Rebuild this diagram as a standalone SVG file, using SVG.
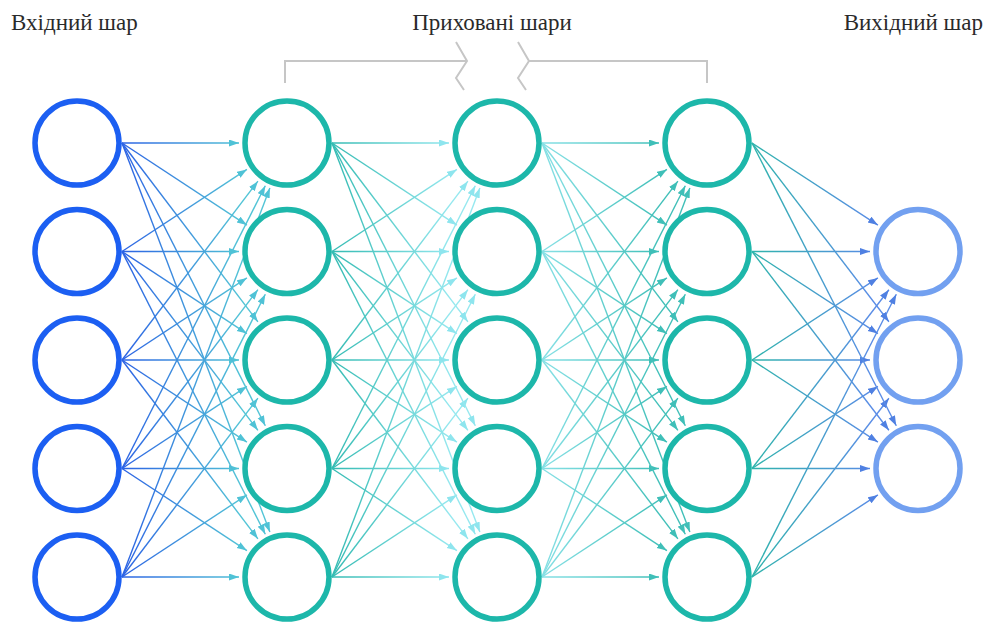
<svg xmlns="http://www.w3.org/2000/svg" width="987" height="622" viewBox="0 0 987 622">
<style>
.lbl{font-family:"Liberation Serif","Times New Roman",serif;font-size:23px;fill:#2a2a2a}
.in{fill:#fff;stroke:#1c5ff2;stroke-width:5.5}
.hid{fill:#fff;stroke:#1db7aa;stroke-width:5.5}
.out{fill:#fff;stroke:#72a0f0;stroke-width:5.5}
.br{fill:none;stroke:#c6c6c6;stroke-width:2}
.c1 line{stroke:url(#g1);stroke-width:1.4;marker-end:url(#m1)}
.c2 line{stroke:url(#g2);stroke-width:1.4;marker-end:url(#m2)}
.c3 line{stroke:url(#g3);stroke-width:1.4;marker-end:url(#m3)}
.c4 line{stroke:url(#g4);stroke-width:1.4;marker-end:url(#m4)}
</style>
<defs>
<linearGradient id="g1" gradientUnits="userSpaceOnUse" x1="122" y1="0" x2="242" y2="0"><stop offset="0" stop-color="#2c62e4"/><stop offset="1" stop-color="#52c4d6"/></linearGradient>
<linearGradient id="g2" gradientUnits="userSpaceOnUse" x1="332" y1="0" x2="452" y2="0"><stop offset="0" stop-color="#34bbb3"/><stop offset="1" stop-color="#95e8ef"/></linearGradient>
<linearGradient id="g3" gradientUnits="userSpaceOnUse" x1="542" y1="0" x2="662" y2="0"><stop offset="0" stop-color="#86e0e5"/><stop offset="1" stop-color="#40bfb8"/></linearGradient>
<linearGradient id="g4" gradientUnits="userSpaceOnUse" x1="752" y1="0" x2="873" y2="0"><stop offset="0" stop-color="#2fb4ac"/><stop offset="1" stop-color="#5a8ce6"/></linearGradient>
<marker id="m1" markerUnits="userSpaceOnUse" markerWidth="11" markerHeight="8" refX="10" refY="3.5" orient="auto"><path d="M0,0L10,3.5L0,7z" fill="#4fc2d6"/></marker>
<marker id="m2" markerUnits="userSpaceOnUse" markerWidth="11" markerHeight="8" refX="10" refY="3.5" orient="auto"><path d="M0,0L10,3.5L0,7z" fill="#8ee5ee"/></marker>
<marker id="m3" markerUnits="userSpaceOnUse" markerWidth="11" markerHeight="8" refX="10" refY="3.5" orient="auto"><path d="M0,0L10,3.5L0,7z" fill="#3fbfb8"/></marker>
<marker id="m4" markerUnits="userSpaceOnUse" markerWidth="11" markerHeight="8" refX="10" refY="3.5" orient="auto"><path d="M0,0L10,3.5L0,7z" fill="#4f80e2"/></marker>
</defs>
<rect width="987" height="622" fill="#fff"/>
<g id="labels">
<text class="lbl" x="11" y="30">Вхідний шар</text>
<text class="lbl" x="492" y="30" text-anchor="middle">Приховані шари</text>
<text class="lbl" x="983" y="30" text-anchor="end">Вихідний шар</text>
</g>
<g id="bracket" class="br">
<polyline points="285,83 285,61 467,61"/>
<polyline points="456,42 467,61 456,78 464,90"/>
<polyline points="518,42 529,61 518,78 526,90"/>
<polyline points="529,61 707,61 707,83"/>
</g>
<g id="connectors">
<g class="c1">
<line x1="122" y1="143" x2="239" y2="143"/>
<line x1="122" y1="251.5" x2="246.9" y2="169.4"/>
<line x1="122" y1="360" x2="257.9" y2="181.2"/>
<line x1="122" y1="468.5" x2="265.3" y2="185.8"/>
<line x1="122" y1="577" x2="269.9" y2="187.9"/>
<line x1="122" y1="143" x2="246.9" y2="225.1"/>
<line x1="122" y1="251.5" x2="239" y2="251.5"/>
<line x1="122" y1="360" x2="246.9" y2="277.9"/>
<line x1="122" y1="468.5" x2="257.9" y2="289.7"/>
<line x1="122" y1="577" x2="265.3" y2="294.3"/>
<line x1="122" y1="143" x2="257.9" y2="321.8"/>
<line x1="122" y1="251.5" x2="246.9" y2="333.6"/>
<line x1="122" y1="360" x2="239" y2="360"/>
<line x1="122" y1="468.5" x2="246.9" y2="386.4"/>
<line x1="122" y1="577" x2="257.9" y2="398.2"/>
<line x1="122" y1="143" x2="265.3" y2="425.7"/>
<line x1="122" y1="251.5" x2="257.9" y2="430.3"/>
<line x1="122" y1="360" x2="246.9" y2="442.1"/>
<line x1="122" y1="468.5" x2="239" y2="468.5"/>
<line x1="122" y1="577" x2="246.9" y2="494.9"/>
<line x1="122" y1="143" x2="269.9" y2="532.1"/>
<line x1="122" y1="251.5" x2="265.3" y2="534.2"/>
<line x1="122" y1="360" x2="257.9" y2="538.8"/>
<line x1="122" y1="468.5" x2="246.9" y2="550.6"/>
<line x1="122" y1="577" x2="239" y2="577"/>
</g>
<g class="c2">
<line x1="332" y1="143" x2="449" y2="143"/>
<line x1="332" y1="251.5" x2="456.9" y2="169.4"/>
<line x1="332" y1="360" x2="467.9" y2="181.2"/>
<line x1="332" y1="468.5" x2="475.3" y2="185.8"/>
<line x1="332" y1="577" x2="479.9" y2="187.9"/>
<line x1="332" y1="143" x2="456.9" y2="225.1"/>
<line x1="332" y1="251.5" x2="449" y2="251.5"/>
<line x1="332" y1="360" x2="456.9" y2="277.9"/>
<line x1="332" y1="468.5" x2="467.9" y2="289.7"/>
<line x1="332" y1="577" x2="475.3" y2="294.3"/>
<line x1="332" y1="143" x2="467.9" y2="321.8"/>
<line x1="332" y1="251.5" x2="456.9" y2="333.6"/>
<line x1="332" y1="360" x2="449" y2="360"/>
<line x1="332" y1="468.5" x2="456.9" y2="386.4"/>
<line x1="332" y1="577" x2="467.9" y2="398.2"/>
<line x1="332" y1="143" x2="475.3" y2="425.7"/>
<line x1="332" y1="251.5" x2="467.9" y2="430.3"/>
<line x1="332" y1="360" x2="456.9" y2="442.1"/>
<line x1="332" y1="468.5" x2="449" y2="468.5"/>
<line x1="332" y1="577" x2="456.9" y2="494.9"/>
<line x1="332" y1="143" x2="479.9" y2="532.1"/>
<line x1="332" y1="251.5" x2="475.3" y2="534.2"/>
<line x1="332" y1="360" x2="467.9" y2="538.8"/>
<line x1="332" y1="468.5" x2="456.9" y2="550.6"/>
<line x1="332" y1="577" x2="449" y2="577"/>
</g>
<g class="c3">
<line x1="542" y1="143" x2="659" y2="143"/>
<line x1="542" y1="251.5" x2="666.9" y2="169.4"/>
<line x1="542" y1="360" x2="677.9" y2="181.2"/>
<line x1="542" y1="468.5" x2="685.3" y2="185.8"/>
<line x1="542" y1="577" x2="689.9" y2="187.9"/>
<line x1="542" y1="143" x2="666.9" y2="225.1"/>
<line x1="542" y1="251.5" x2="659" y2="251.5"/>
<line x1="542" y1="360" x2="666.9" y2="277.9"/>
<line x1="542" y1="468.5" x2="677.9" y2="289.7"/>
<line x1="542" y1="577" x2="685.3" y2="294.3"/>
<line x1="542" y1="143" x2="677.9" y2="321.8"/>
<line x1="542" y1="251.5" x2="666.9" y2="333.6"/>
<line x1="542" y1="360" x2="659" y2="360"/>
<line x1="542" y1="468.5" x2="666.9" y2="386.4"/>
<line x1="542" y1="577" x2="677.9" y2="398.2"/>
<line x1="542" y1="143" x2="685.3" y2="425.7"/>
<line x1="542" y1="251.5" x2="677.9" y2="430.3"/>
<line x1="542" y1="360" x2="666.9" y2="442.1"/>
<line x1="542" y1="468.5" x2="659" y2="468.5"/>
<line x1="542" y1="577" x2="666.9" y2="494.9"/>
<line x1="542" y1="143" x2="689.9" y2="532.1"/>
<line x1="542" y1="251.5" x2="685.3" y2="534.2"/>
<line x1="542" y1="360" x2="677.9" y2="538.8"/>
<line x1="542" y1="468.5" x2="666.9" y2="550.6"/>
<line x1="542" y1="577" x2="659" y2="577"/>
</g>
<g class="c4">
<line x1="752" y1="143" x2="877.9" y2="225.1"/>
<line x1="752" y1="251.5" x2="870" y2="251.5"/>
<line x1="752" y1="360" x2="877.9" y2="277.9"/>
<line x1="752" y1="468.5" x2="888.9" y2="289.7"/>
<line x1="752" y1="577" x2="896.3" y2="294.3"/>
<line x1="752" y1="143" x2="888.9" y2="321.8"/>
<line x1="752" y1="251.5" x2="877.9" y2="333.6"/>
<line x1="752" y1="360" x2="870" y2="360"/>
<line x1="752" y1="468.5" x2="877.9" y2="386.4"/>
<line x1="752" y1="577" x2="888.9" y2="398.2"/>
<line x1="752" y1="143" x2="896.3" y2="425.7"/>
<line x1="752" y1="251.5" x2="888.9" y2="430.3"/>
<line x1="752" y1="360" x2="877.9" y2="442.1"/>
<line x1="752" y1="468.5" x2="870" y2="468.5"/>
<line x1="752" y1="577" x2="877.9" y2="494.9"/>
</g>
</g>
<g id="input-layer">
<circle id="in1" class="in" cx="77" cy="143" r="42"/>
<circle id="in2" class="in" cx="77" cy="251.5" r="42"/>
<circle id="in3" class="in" cx="77" cy="360" r="42"/>
<circle id="in4" class="in" cx="77" cy="468.5" r="42"/>
<circle id="in5" class="in" cx="77" cy="577" r="42"/>
</g>
<g id="hidden-layer-1">
<circle id="h1a" class="hid" cx="287" cy="143" r="42"/>
<circle id="h1b" class="hid" cx="287" cy="251.5" r="42"/>
<circle id="h1c" class="hid" cx="287" cy="360" r="42"/>
<circle id="h1d" class="hid" cx="287" cy="468.5" r="42"/>
<circle id="h1e" class="hid" cx="287" cy="577" r="42"/>
</g>
<g id="hidden-layer-2">
<circle id="h2a" class="hid" cx="497" cy="143" r="42"/>
<circle id="h2b" class="hid" cx="497" cy="251.5" r="42"/>
<circle id="h2c" class="hid" cx="497" cy="360" r="42"/>
<circle id="h2d" class="hid" cx="497" cy="468.5" r="42"/>
<circle id="h2e" class="hid" cx="497" cy="577" r="42"/>
</g>
<g id="hidden-layer-3">
<circle id="h3a" class="hid" cx="707" cy="143" r="42"/>
<circle id="h3b" class="hid" cx="707" cy="251.5" r="42"/>
<circle id="h3c" class="hid" cx="707" cy="360" r="42"/>
<circle id="h3d" class="hid" cx="707" cy="468.5" r="42"/>
<circle id="h3e" class="hid" cx="707" cy="577" r="42"/>
</g>
<g id="output-layer">
<circle id="o1" class="out" cx="918" cy="251.5" r="42"/>
<circle id="o2" class="out" cx="918" cy="360" r="42"/>
<circle id="o3" class="out" cx="918" cy="468.5" r="42"/>
</g>
</svg>
